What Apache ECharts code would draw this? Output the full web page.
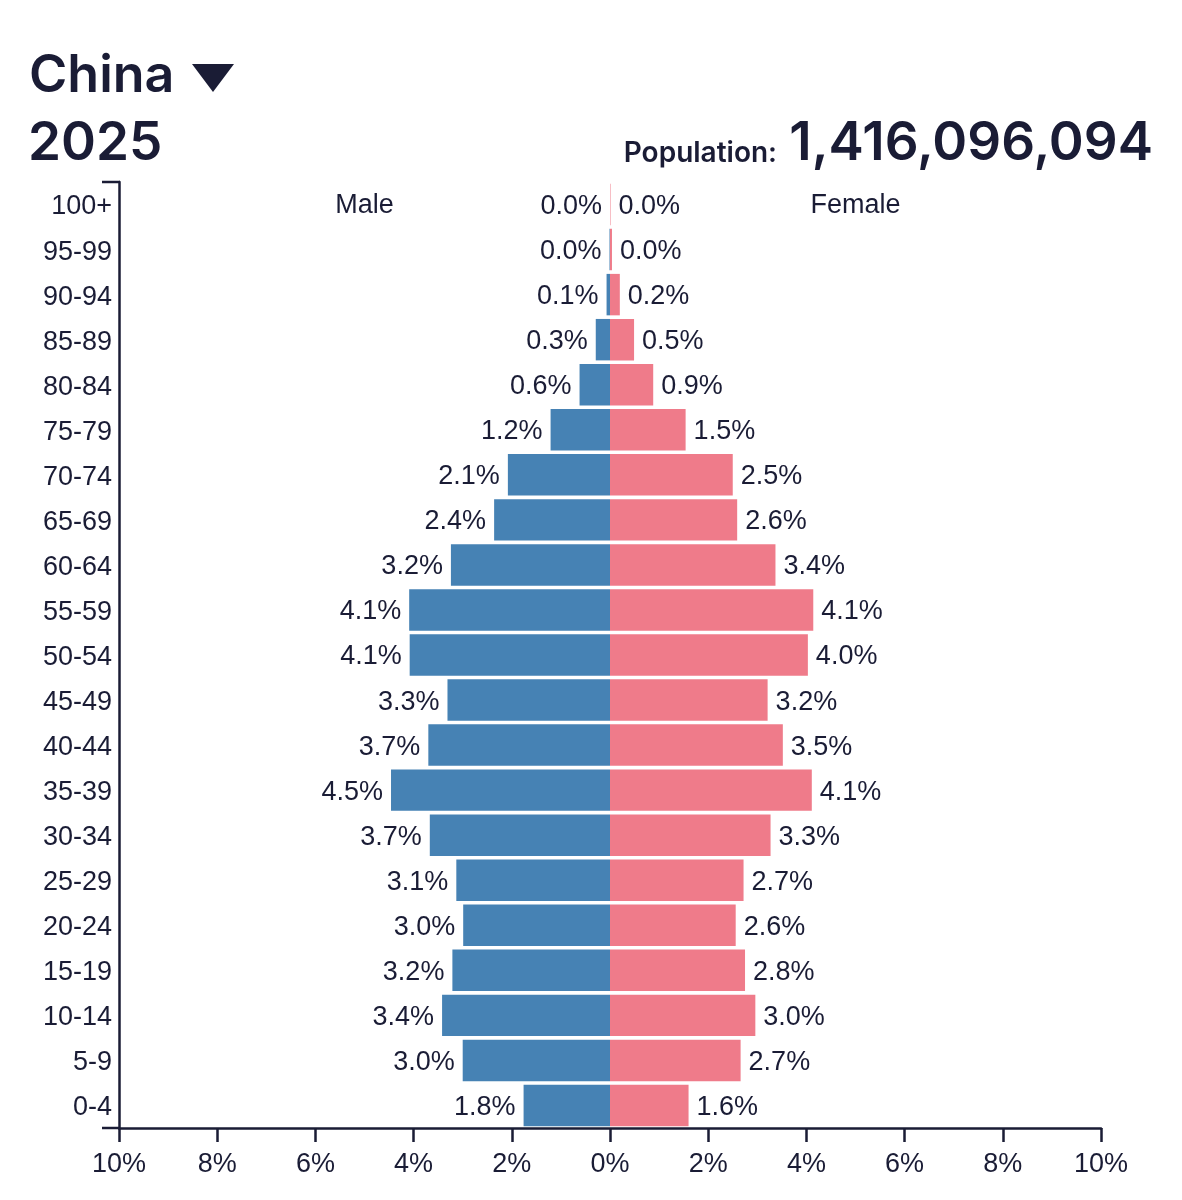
<!DOCTYPE html>
<html lang="en">
<head>
    <meta charset="UTF-8">
    <title>China 2025 population pyramid</title>
    <script src="https://cdn.jsdelivr.net/npm/echarts@6/dist/echarts.min.js"></script>
    <style>
        body { margin: 0; background: #fff; }
        #chart { width: 1182px; height: 1200px; }
    </style>
</head>
<body>
<div id="chart"></div>
<script>
    // age groups, top to bottom as drawn
    const ageGroups = ['100+', '95-99', '90-94', '85-89', '80-84', '75-79', '70-74', '65-69', '60-64',
        '55-59', '50-54', '45-49', '40-44', '35-39', '30-34', '25-29', '20-24', '15-19', '10-14', '5-9', '0-4'];
    // share of total population, percent
    const malePct = [0.00, 0.01, 0.07, 0.29, 0.62, 1.21, 2.08, 2.36, 3.24,
        4.09, 4.08, 3.31, 3.70, 4.46, 3.67, 3.13, 2.99, 3.21, 3.42, 3.00, 1.76];
    const femalePct = [0.01, 0.04, 0.20, 0.49, 0.88, 1.54, 2.50, 2.59, 3.37,
        4.14, 4.03, 3.21, 3.52, 4.11, 3.27, 2.72, 2.56, 2.75, 2.96, 2.66, 1.60];
    const xTicks = [-10, -8, -6, -4, -2, 0, 2, 4, 6, 8, 10];

    const country = 'China';
    const year = '2025';
    const population = '1,416,096,094';

    const ink = '#1a1c35';
    const maleColor = '#4682b4';
    const femaleColor = '#ef7b8a';
    const axisFont = '"Liberation Sans", Arial, sans-serif';
    const titleFont = 'Inter, "Noto Sans", sans-serif';
    const textSize = 27;

    const chart = echarts.init(document.getElementById('chart'));

    const pctLabel = p => Math.abs(p.value).toFixed(1) + '%';

    chart.setOption({
        animation: false,
        grid: { left: 119, right: 81, top: 182, bottom: 72, containLabel: false },
        xAxis: {
            type: 'value',
            min: xTicks[0],
            max: xTicks[xTicks.length - 1],
            interval: 2,
            axisLine: { show: true, onZero: false, lineStyle: { color: ink, width: 2.5 } },
            axisTick: { show: true, length: 14, lineStyle: { color: ink, width: 2.5 } },
            splitLine: { show: false },
            axisLabel: {
                formatter: v => Math.abs(v) + '%',
                color: ink, fontSize: textSize, fontFamily: axisFont, margin: 23
            }
        },
        yAxis: {
            type: 'category',
            inverse: true,
            data: ageGroups,
            axisLine: { show: true, onZero: false, lineStyle: { color: ink, width: 2.5 } },
            axisTick: { show: false },
            axisLabel: {
                margin: 7,
                formatter: v => '{age|' + v + '}',
                rich: {
                    age: { color: ink, fontSize: textSize, fontFamily: axisFont, padding: [5, 0, 0, 0] }
                }
            }
        },
        series: [
            {
                name: 'Male',
                type: 'bar',
                data: malePct.map(v => -v),
                barCategoryGap: '8%',
                barGap: '-100%',
                itemStyle: { color: maleColor },
                label: {
                    show: true, position: 'left', distance: 8, offset: [0, 2], formatter: pctLabel,
                    color: ink, fontSize: textSize, fontFamily: axisFont
                }
            },
            {
                name: 'Female',
                type: 'bar',
                data: femalePct,
                barCategoryGap: '8%',
                barGap: '-100%',
                itemStyle: { color: femaleColor },
                label: {
                    show: true, position: 'right', distance: 8, offset: [0, 2], formatter: pctLabel,
                    color: ink, fontSize: textSize, fontFamily: axisFont
                }
            }
        ]
    });

    // headings and side captions
    const malePos = chart.convertToPixel({ gridIndex: 0 }, [-5, ageGroups[0]]);
    const femalePos = chart.convertToPixel({ gridIndex: 0 }, [5, ageGroups[0]]);
    const leftEdge = chart.convertToPixel({ gridIndex: 0 }, [xTicks[0], ageGroups[0]])[0];
    const gridTop = 182, gridBottom = 1200 - 72;

    chart.setOption({
        graphic: [
            { type: 'text', left: 29, top: 50, style: { text: country, font: '600 52px ' + titleFont, fill: ink } },
            { type: 'polygon', shape: { points: [[192, 64], [234, 64], [213, 92]] }, style: { fill: ink } },
            { type: 'text', left: 28, top: 118, style: { text: year, font: '600 53px ' + titleFont, fill: ink } },
            {
                type: 'text', x: 777, y: 168,
                style: { text: 'Population:', font: '600 28px ' + titleFont, fill: ink, align: 'right', verticalAlign: 'bottom' }
            },
            {
                type: 'text', x: 1153, y: 171,
                style: { text: population, font: '600 53px ' + titleFont, fill: ink, align: 'right', verticalAlign: 'bottom' }
            },
            {
                type: 'text', x: malePos[0], y: malePos[1] + 1,
                style: { text: 'Male', font: textSize + 'px ' + axisFont, fill: ink, align: 'center', verticalAlign: 'middle' }
            },
            {
                type: 'text', x: femalePos[0], y: femalePos[1] + 1,
                style: { text: 'Female', font: textSize + 'px ' + axisFont, fill: ink, align: 'center', verticalAlign: 'middle' }
            },
            // outer ticks of the age axis
            {
                type: 'line', shape: { x1: leftEdge - 17, y1: gridTop, x2: leftEdge + 1, y2: gridTop },
                style: { stroke: ink, lineWidth: 2.5 }
            },
            {
                type: 'line', shape: { x1: leftEdge - 17, y1: gridBottom, x2: leftEdge, y2: gridBottom },
                style: { stroke: ink, lineWidth: 2.5 }
            }
        ]
    });
</script>
</body>
</html>
